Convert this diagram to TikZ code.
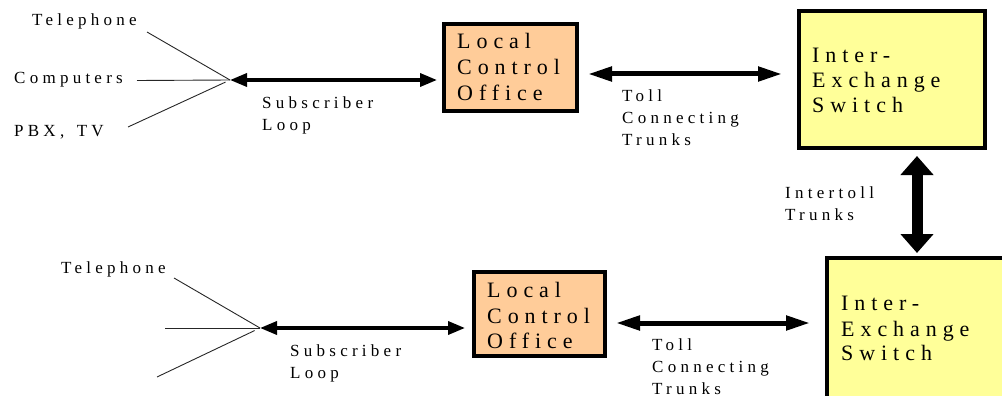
\documentclass[tikz,border=0pt]{standalone}
\usepackage{fontspec}
\setmainfont{Liberation Serif}
\newfontfamily\lblfont{Liberation Serif}[LetterSpace=25,Ligatures=NoCommon]
\newfontfamily\boxfont{Liberation Serif}[LetterSpace=27,Ligatures=NoCommon]
\usetikzlibrary{arrows.meta}
\definecolor{lcoorange}{HTML}{FFCC99}
\definecolor{ixyellow}{HTML}{FFFF99}
\tikzset{
  lbl/.style={anchor=base west, inner sep=0pt, font=\lblfont\fontsize{17}{20}\selectfont},
  btxt/.style={anchor=base west, inner sep=0pt, font=\boxfont\fontsize{22}{26}\selectfont},
  box/.style={draw=black, line width=4pt, inner sep=0pt, outer sep=0pt, anchor=north west},
  thinline/.style={line width=0.9pt, draw=black!85},
  subarr/.style={line width=3.5pt, {Triangle[length=17pt,width=13pt]}-{Triangle[length=17pt,width=13pt]}},
  tollarr/.style={line width=5pt, {Triangle[length=24pt,width=14pt]}-{Triangle[length=24pt,width=14pt]}},
  vertarr/.style={line width=11pt, {Triangle[length=19pt,width=32pt]}-{Triangle[length=19pt,width=32pt]}},
}
\begin{document}
\begin{tikzpicture}[x=1pt,y=-1pt]
\useasboundingbox (0,0) rectangle (1002,396);
\clip (0,0) rectangle (1002,396);

% boxes
\node[box, fill=lcoorange, minimum width=133pt, minimum height=87pt] (lco1) at (444,24) {};
\node[box, fill=ixyellow, minimum width=186pt, minimum height=137pt] (ix1) at (799,11) {};
\node[box, fill=lcoorange, minimum width=131pt, minimum height=84pt] (lco2) at (474,272) {};
\node[box, fill=ixyellow, minimum width=200pt, minimum height=160pt] (ix2) at (827,258) {};

% box texts
\node[btxt] (lco1a) at (457,49) {Local};
\node[btxt] (lco1b) at (457,75) {Control};
\node[btxt] (lco1c) at (457,101) {Office};
\node[btxt] (ix1a) at (812,63) {Inter-};
\node[btxt] (ix1b) at (812,88) {Exchange};
\node[btxt] (ix1c) at (812,113) {Switch};
\node[btxt] (lco2a) at (487,297) {Local};
\node[btxt] (lco2b) at (487,323) {Control};
\node[btxt] (lco2c) at (487,348) {Office};
\node[btxt] (ix2a) at (841,310) {Inter-};
\node[btxt] (ix2b) at (841,336) {Exchange};
\node[btxt] (ix2c) at (841,360) {Switch};

% labels
\node[lbl] (tel1) at (32,26) {Telephone};
\node[lbl] (comp1) at (14,84) {Computers};
\node[lbl] (pbx1) at (14,136) {PBX,\hspace{4pt} TV};
\node[lbl] (sub1a) at (262,108) {Subscriber};
\node[lbl] (sub1b) at (262,131) {Loop};
\node[lbl] (toll1a) at (622,102) {Toll};
\node[lbl] (toll1b) at (622,124) {Connecting};
\node[lbl] (toll1c) at (622,146) {Trunks};
\node[lbl] (itl1) at (785,198) {Intertoll};
\node[lbl] (itl2) at (785,220) {Trunks};
\node[lbl] (tel2) at (61,273) {Telephone};
\node[lbl] (sub2a) at (290,356) {Subscriber};
\node[lbl] (sub2b) at (290,378) {Loop};
\node[lbl] (toll2a) at (652,350) {Toll};
\node[lbl] (toll2b) at (652,372.5) {Connecting};
\node[lbl] (toll2c) at (652,394) {Trunks};

% hubs and device line ends
\coordinate (hub1) at (230,80);
\coordinate (d1a) at (147,32);
\coordinate (d1b) at (137,80.5);
\coordinate (d1c) at (128,127);
\coordinate (hub2) at (260,328);
\coordinate (d2a) at (174,278);
\coordinate (d2b) at (165,328);
\coordinate (d2c) at (157,377);

\draw[thinline] (d1a) -- (hub1);
\draw[thinline] (d1b) -- (hub1);
\draw[thinline, shorten >=5pt] (d1c) -- (hub1);
\draw[thinline] (d2a) -- (hub2);
\draw[thinline] (d2b) -- (hub2);
\draw[thinline, shorten >=6pt] (d2c) -- (hub2);

% arrows
\draw[subarr, shorten >=7pt] (hub1) -- (hub1 -| lco1.west);
\draw[tollarr, shorten <=11pt, shorten >=17pt] ([yshift=-6.5pt]lco1.east) -- ([yshift=-6.5pt]lco1.east -| ix1.west);
\draw[vertarr, shorten <=8pt, shorten >=5pt] ([xshift=25pt]ix1.south) -- ([xshift=25pt]ix1.south |- ix2.north);
\draw[subarr, shorten >=9pt] (hub2) -- (hub2 -| lco2.west);
\draw[tollarr, shorten <=11pt, shorten >=17pt] ([yshift=-9pt]lco2.east) -- ([yshift=-9pt]lco2.east -| ix2.west);
\end{tikzpicture}
\end{document}
